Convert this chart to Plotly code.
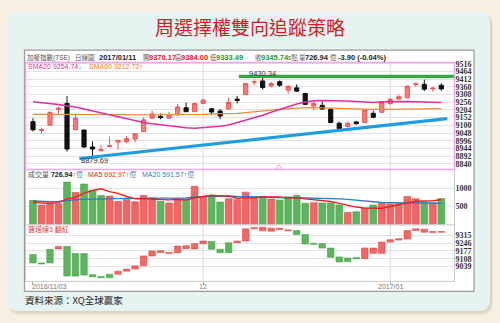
import plotly.graph_objects as go

W, H = 500, 323

# ---------------- data ----------------
idx = list(range(49))
x_label_idx = [0, 20, 42]
x_labels = ["2016/11/03", "12", "2017/01"]

open_ = [9125, 9065, 9101, 9208, 9248, 9070, 9068, 8954, 8929, 8956, 8987, 8989, 9007, 9059, 9148, 9161, 9148, 9170, 9219, 9192, 9248, 9212, 9197, 9210, 9277,
         9308, 9391, 9400, 9366, 9395, 9337, 9353, 9315, 9230, 9235, 9208, 9114, 9092, 9123, 9119, 9181, 9188, 9248, 9277, 9286, 9375, 9377, 9346, 9370.17]
high_ = [9148, 9085, 9192, 9226, 9297, 9175, 9072, 8992, 8969, 9025, 9003, 9027, 9047, 9154, 9199, 9181, 9192, 9244, 9253, 9253, 9282, 9217, 9210, 9288, 9299,
         9386, 9404, 9430.34, 9393, 9404, 9371, 9377, 9320, 9270, 9259, 9215, 9125, 9125, 9130, 9208, 9199, 9266, 9286, 9308, 9369, 9389, 9409, 9360, 9384.00]
low_ = [9059, 9043, 9099, 9170, 8923, 9065, 8947, 8879.69, 8923, 8954, 8936, 8981, 8985, 9056, 9146, 9141, 9143, 9168, 9190, 9190, 9244, 9170, 9143, 9208, 9248,
        9306, 9371, 9342, 9355, 9360, 9315, 9326, 9237, 9199, 9204, 9114, 9074, 9085, 9106, 9117, 9148, 9186, 9237, 9270, 9284, 9360, 9331, 9326, 9333.49]
close_ = [9070, 9072, 9188, 9215, 8940, 9148, 8954, 8940, 8936, 8963, 8998, 9010, 9043, 9137, 9177, 9152, 9170, 9224, 9192, 9248, 9270, 9190, 9163, 9255, 9268,
          9382, 9395, 9355, 9382, 9371, 9364, 9331, 9241, 9248, 9210, 9119, 9079, 9114, 9111, 9204, 9154, 9255, 9275, 9293, 9364, 9380, 9344, 9351, 9345.74]

sma20 = [9259, 9253, 9248, 9241, 9230, 9224, 9210, 9197, 9181, 9166, 9154, 9141, 9130, 9119, 9110, 9103, 9099, 9092, 9083, 9081, 9085, 9090, 9094, 9103, 9119,
         9132, 9148, 9168, 9188, 9208, 9226, 9244, 9257, 9266, 9268, 9268, 9266, 9264, 9261, 9257, 9255, 9259, 9261, 9264, 9261, 9259, 9259, 9257, 9254.74]
sma60 = [9174, 9174, 9174, 9174, 9174, 9177, 9177, 9174, 9174, 9172, 9172, 9172, 9170, 9170, 9170, 9170, 9170, 9170, 9172, 9172, 9174, 9177, 9177, 9179, 9181,
         9186, 9190, 9197, 9203, 9208, 9212, 9217, 9219, 9219, 9217, 9215, 9212, 9210, 9208, 9208, 9208, 9208, 9208, 9208, 9210, 9210, 9212, 9212, 9212.72]

volumes = [673, 545, 582, 582, 1182, 891, 1127, 954, 809, 791, 645, 700, 636, 809, 745, 645, 600, 718, 700, 1064, 773, 809, 627, 718, 691,
           900, 773, 773, 709, 682, 773, 809, 591, 609, 600, 600, 545, 336, 355, 455, 545, 591, 573, 582, 782, 718, 627, 600, 726.94]
vol_up = [0, 1, 1, 1, 0, 1, 0, 0, 0, 1, 1, 1, 1, 1, 1, 0, 1, 1, 0, 1, 1, 0, 0, 1, 1,
          1, 1, 0, 1, 0, 0, 0, 0, 1, 0, 0, 0, 1, 0, 1, 0, 1, 1, 1, 1, 1, 0, 1, 0]
vol_ma5 = [609, 591, 591, 609, 713, 756, 873, 947, 993, 914, 865, 780, 716, 716, 707, 707, 687, 703, 682, 745, 771, 813, 795, 798, 724,
           749, 742, 771, 769, 767, 742, 749, 713, 693, 676, 642, 589, 538, 487, 458, 447, 456, 504, 549, 615, 649, 656, 662, 692.97]
vol_ma20 = [655, 636, 636, 645, 673, 691, 700, 709, 718, 727, 727, 727, 727, 736, 736, 736, 736, 736, 740, 765, 775, 785, 790, 795, 780,
            773, 760, 750, 745, 740, 742, 745, 742, 735, 728, 722, 715, 700, 680, 650, 625, 615, 608, 603, 600, 598, 596, 594, 591.57]

tower_low = [9071, 9062, 9071, 9195, 8954, 8954, 8963, 8948, 8939, 8939, 8971, 8998, 9016, 9045, 9133, 9162, 9156, 9162, 9198, 9195, 9242, 9192, 9162, 9162, 9250,
             9265, 9374, 9356, 9353, 9368, 9356, 9324, 9239, 9236, 9203, 9121, 9080, 9083, 9107, 9109, 9156, 9156, 9256, 9274, 9283, 9359, 9344, 9341, 9343]
tower_high = [9145, 9071, 9192, 9218, 9218, 9154, 9154, 8966, 8951, 8971, 8998, 9016, 9045, 9133, 9177, 9180, 9165, 9221, 9224, 9242, 9265, 9262, 9192, 9250, 9265,
              9374, 9385, 9388, 9380, 9380, 9365, 9359, 9324, 9245, 9242, 9203, 9124, 9115, 9118, 9203, 9203, 9256, 9277, 9286, 9359, 9374, 9371, 9350, 9350]
tower_up = [0, 0, 0, 1, 0, 0, 0, 0, 0, 0, 1, 1, 1, 1, 1, 1, 1, 1, 1, 1, 1, 0, 0, 0, 1,
            1, 1, 1, 1, 1, 1, 0, 0, 0, 0, 0, 0, 0, 0, 1, 1, 1, 1, 1, 1, 1, 1, 1, 1]

price_ticks = [9516, 9464, 9412, 9360, 9308, 9256, 9204, 9152, 9100, 9048, 8996, 8944, 8892, 8840]
vol_ticks = [500, 1000]
tower_ticks = [9315, 9246, 9177, 9108, 9039]

support_x = [5.45, 48.7]
support_y = [8876, 9145]
resist_x = [24.2, 49.7]
resist_y = [9430.34, 9430.34]

# header texts: (label, value, value colour)
header_items = [
    ("開", "9370.17", "#e02020"),
    ("高", "9384.00", "#e02020"),
    ("低", "9333.49", "#1e9a2a"),
    ("收", "9345.74", "#1e9a2a"),
    ("量", "726.94", "#222222"),
]

# ---------------- helpers ----------------
def px(x):
    return x / W

def py(y):
    return 1 - y / H

def rrect(x0, y0, x1, y1, r):
    def P(x, y):
        return f"{px(x):.5f},{py(y):.5f}"
    return (f"M {P(x0 + r, y0)} L {P(x1 - r, y0)} Q {P(x1, y0)} {P(x1, y0 + r)} "
            f"L {P(x1, y1 - r)} Q {P(x1, y1)} {P(x1 - r, y1)} L {P(x0 + r, y1)} "
            f"Q {P(x0, y1)} {P(x0, y1 - r)} L {P(x0, y0 + r)} Q {P(x0, y0)} {P(x0 + r, y0)} Z")

RED = "#f26666"
RED_L = "#e04848"
GRN = "#5db55d"
GRN_L = "#47a047"
CJK = "Liberation Sans, Noto Sans CJK TC"

fig = go.Figure()

# candles
fig.add_trace(go.Candlestick(
    x=idx, open=open_, high=high_, low=low_, close=close_,
    increasing=dict(line=dict(color="#f05656", width=1), fillcolor="#f77b7b"),
    decreasing=dict(line=dict(color="#111111", width=1), fillcolor="#111111"),
    whiskerwidth=0, xaxis="x", yaxis="y", hoverinfo="skip", showlegend=False))

fig.add_trace(go.Scatter(x=idx, y=sma60, mode="lines", line=dict(color="#f08a3c", width=1.3),
                         xaxis="x", yaxis="y", hoverinfo="skip"))
fig.add_trace(go.Scatter(x=idx, y=sma20, mode="lines", line=dict(color="#e0309c", width=1.5),
                         xaxis="x", yaxis="y", hoverinfo="skip"))
fig.add_trace(go.Scatter(x=support_x, y=support_y, mode="lines", line=dict(color="#1e9de2", width=3.2),
                         xaxis="x", yaxis="y", hoverinfo="skip"))
fig.add_trace(go.Scatter(x=resist_x, y=resist_y, mode="lines", line=dict(color="#2eaa3e", width=3.2),
                         xaxis="x", yaxis="y", hoverinfo="skip"))
fig.add_trace(go.Scatter(x=[28.9], y=[8814], mode="markers",
                         marker=dict(symbol="triangle-up-open", size=6, color="#f0a0e8", line=dict(width=1)),
                         xaxis="x", yaxis="y", hoverinfo="skip", cliponaxis=False))

# volume
fig.add_trace(go.Bar(x=idx, y=volumes, width=0.8,
                     marker=dict(color=[RED if u else GRN for u in vol_up],
                                 line=dict(color=[RED_L if u else GRN_L for u in vol_up], width=0.6)),
                     xaxis="x", yaxis="y2", hoverinfo="skip"))
fig.add_trace(go.Scatter(x=idx, y=vol_ma20, mode="lines", line=dict(color="#2a7fc8", width=1.4),
                         xaxis="x", yaxis="y2", hoverinfo="skip"))
fig.add_trace(go.Scatter(x=idx, y=vol_ma5, mode="lines", line=dict(color="#e82222", width=1.4),
                         xaxis="x", yaxis="y2", hoverinfo="skip"))

# tower line
fig.add_trace(go.Bar(x=idx, base=tower_low, y=[h - l for h, l in zip(tower_high, tower_low)], width=0.76,
                     marker=dict(color=[RED if u else GRN for u in tower_up],
                                 line=dict(color=[RED_L if u else GRN_L for u in tower_up], width=0.6)),
                     xaxis="x", yaxis="y3", hoverinfo="skip"))

tickfont = dict(family="Liberation Serif", size=8, color="#333333", weight="bold")
grid = "#e2e2e2"

shapes = [
    dict(type="path", path=rrect(9, 11, 493, 315, 13), xref="paper", yref="paper",
         fillcolor="rgba(170,150,110,0.16)", line=dict(width=0), layer="below"),
    dict(type="path", path=rrect(8, 10, 492, 313, 13), xref="paper", yref="paper",
         fillcolor="rgba(170,150,110,0.18)", line=dict(width=0), layer="below"),
    dict(type="path", path=rrect(7, 9, 490, 311, 12), xref="paper", yref="paper",
         fillcolor="#e7f3f1", line=dict(width=0), layer="below"),
    dict(type="rect", xref="paper", yref="paper", x0=px(24.5), x1=px(474), y0=py(291), y1=py(47.5),
         fillcolor="#ffffff", line=dict(color="#9a9a9a", width=1.2), layer="below"),
]
for gx in [20, 42]:
    shapes.append(dict(type="line", xref="x", yref="paper", x0=gx, x1=gx, y0=py(281), y1=py(60),
                       line=dict(color="#dadada", width=1), layer="below"))
shapes += [
    dict(type="line", xref="paper", yref="paper", x0=px(25.5), x1=px(454.5), y0=py(224), y1=py(224),
         line=dict(color="#c8c8c8", width=1), layer="above"),
    dict(type="line", xref="paper", yref="paper", x0=px(25.5), x1=px(454.5), y0=py(281), y1=py(281),
         line=dict(color="#c8c8c8", width=1), layer="above"),
    dict(type="line", xref="paper", yref="paper", x0=px(454.5), x1=px(454.5), y0=py(281), y1=py(168),
         line=dict(color="#c8c8c8", width=1), layer="above"),
    dict(type="line", xref="paper", yref="paper", x0=px(25.5), x1=px(25.5), y0=py(281), y1=py(168),
         line=dict(color="#c8c8c8", width=1), layer="above"),
    dict(type="rect", xref="paper", yref="paper", x0=px(25.5), x1=px(454.5), y0=py(168), y1=py(60),
         line=dict(color="#f2a4ec", width=1.5), layer="above"),
]

def ann(text, x, y, size=8, color="#333333", family=CJK, xanchor="left", xref="paper", yref="paper"):
    return dict(text=text, x=px(x) if xref == "paper" else x, y=py(y) if yref == "paper" else y,
                xref=xref, yref=yref, xanchor=xanchor, yanchor="middle", showarrow=False,
                font=dict(size=size, color=color, family=family))

NUM = "Liberation Sans"
annotations = [
    ann("周選擇權雙向追蹤策略", 250, 24, size=19, color="#cc1f2b",
        family="Noto Sans CJK TC", xanchor="center"),
    ann("資料來源：XQ全球贏家", 23, 300, size=9.5, color="#222222", family="Noto Sans CJK TC"),
    # header row
    ann("加權指數(TSE)", 25, 55, size=6.5, color="#555555"),
    ann("日線圖", 73, 55, size=6.5, color="#555555", family="Noto Sans CJK TC"),
    ann("<b>2017/01/11</b>", 97, 55, size=7.5, color="#222222", family=NUM),
    ann("s點", 286, 55, size=6.5, color="#555555"),
    ann("億", 328, 55, size=6.5, color="#555555", family="Noto Sans CJK TC"),
    ann("<b>-3.90 (-0.04%)</b>", 336, 55, size=7.5, color="#222222", family=NUM),
    # SMA legend
    ann("SMA20 9254.74<span style='color:#1e9a2a'>↓</span>", 26, 64, size=7, color="#e0309c"),
    ann("SMA60 9212.72<span style='color:#e02020'>↑</span>", 87, 64, size=7, color="#f07f2a"),
    # volume legend
    ann("成交量 <b><span style='color:#222'>726.94</span></b><span style='color:#e02020'>↑</span><span style='color:#5a8fc0'>億</span>",
        26, 173, size=7, color="#555555"),
    ann("MA5 692.97<span style='color:#e02020'>↑</span><span style='color:#5a8fc0'>億</span>", 86, 173, size=7, color="#e82222"),
    ann("MA20 591.57<span style='color:#e02020'>↑</span><span style='color:#5a8fc0'>億</span>", 140, 173, size=7, color="#2a7fc8"),
    # tower legend
    ann("寶塔線3 翻紅", 26, 229, size=7, color="#e83a3a"),
    # price labels
    dict(text="9430.34", x=25.2, y=9450, xref="x", yref="y", xanchor="left", yanchor="middle",
         showarrow=False, font=dict(size=7.5, color="#333333", family="Liberation Sans")),
    dict(text="8879.69", x=5.4, y=8862, xref="x", yref="y", xanchor="left", yanchor="middle",
         showarrow=False, font=dict(size=7.5, color="#333333", family="Liberation Sans")),
]
label_x = [141, 173, 208, 253, 297]
for (lab, val, col), lx in zip(header_items, label_x):
    annotations.append(ann(lab, lx, 55, size=6.5, color="#555555", family="Noto Sans CJK TC"))
    annotations.append(ann(f"<b>{val}</b>", lx + 6, 55, size=7.5, color=col, family=NUM))

# x axis labels
for i, (xi, lab) in enumerate(zip(x_label_idx, x_labels)):
    annotations.append(dict(text=lab, x=xi - 0.4 if i == 0 else xi, y=py(286.5), xref="x", yref="paper",
                            xanchor="left" if i == 0 else "center", yanchor="middle", showarrow=False,
                            font=dict(size=7, color="#777777", family="Liberation Sans")))

fig.update_layout(
    width=W, height=H, margin=dict(l=0, r=0, t=0, b=0),
    paper_bgcolor="#f6f0e3", plot_bgcolor="rgba(0,0,0,0)",
    showlegend=False, boxgap=0.3,
    xaxis=dict(domain=[px(25.5), px(454.5)], range=[-0.88, 49.55], anchor="y3",
               showgrid=False, zeroline=False, showline=False, tickvals=x_label_idx,
               ticks="outside", ticklen=3, tickcolor="#aaaaaa", showticklabels=False,
               rangeslider=dict(visible=False), fixedrange=True),
    yaxis=dict(domain=[py(168), py(60)], range=[8802.2, 9524.7], side="right", anchor="x",
               tickvals=price_ticks, gridcolor=grid, zeroline=False, showline=False,
               tickfont=tickfont, ticks="", fixedrange=True),
    yaxis2=dict(domain=[py(223.7), py(169)], range=[0, 1503], side="right", anchor="x",
                tickvals=vol_ticks, gridcolor=grid, zeroline=False, showline=False,
                tickfont=tickfont, fixedrange=True),
    yaxis3=dict(domain=[py(281), py(224.3)], range=[8907, 9406], side="right", anchor="x",
                tickvals=tower_ticks, gridcolor=grid, zeroline=False, showline=False,
                tickfont=tickfont, fixedrange=True),
    shapes=shapes, annotations=annotations,
)

fig.write_html("out.html")
